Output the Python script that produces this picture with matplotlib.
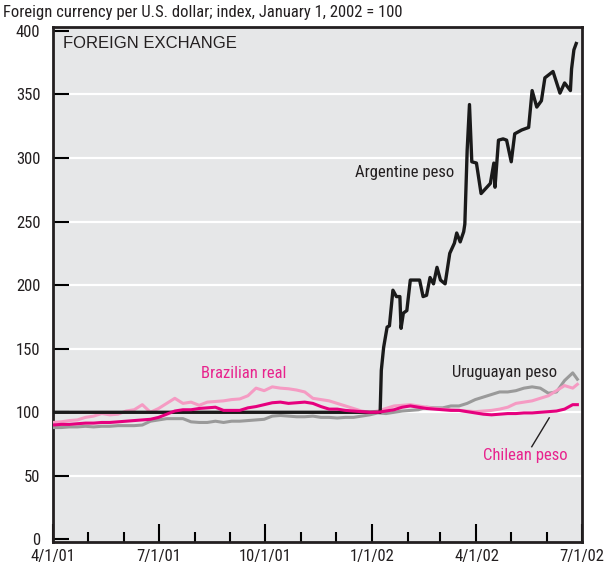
import numpy as np
import pandas as pd
import matplotlib
matplotlib.use('Agg')
import matplotlib.pyplot as plt
import matplotlib.dates as mdates
from matplotlib import font_manager

# weekly observation dates, plus last day shown
week_dates = list(pd.date_range('2001-04-01', periods=65, freq='7D')) + [pd.Timestamp('2002-06-27')]

uruguayan = [88, 88, 88.5, 88.5, 89, 88.5, 89, 89, 89.5, 89.5, 89.5, 90,
             93, 94, 95, 95, 95, 92.5, 92, 92, 93, 92, 93, 93, 93.5, 94, 94.5,
             97, 97.5, 97, 96.5, 96.5, 97, 96, 96, 95.5, 96, 96, 97, 98, 99.5,
             99, 100, 101, 101.5, 102, 104, 103.5, 103.5, 105, 105, 107, 110,
             112, 114, 116, 116, 117, 119, 120, 119, 115, 116, 125, 131, 126]

brazilian = [92, 92.5, 93.5, 94, 96, 97, 99, 98, 98.5, 101, 102, 106,
             100, 103, 107, 111, 107, 108, 105.5, 108, 108.5, 109, 110, 110.5,
             113, 119, 117, 120, 119, 118.5, 117.5, 116, 111, 110, 109, 107,
             105, 103, 101, 100, 101, 103, 105, 105.5, 106, 105, 104, 103,
             102.5, 102, 101.5, 101, 100.5, 101, 101.5, 102.5, 104, 107, 108,
             109, 111, 113, 117, 121, 119, 122]

chilean = [90, 90.5, 90.5, 91, 91.5, 91.5, 92, 92, 92.5, 93, 93.5, 94,
           94.5, 96, 98.5, 101, 102, 102, 103, 103.5, 104, 101.5, 101.5, 101.5,
           103.5, 104.5, 106, 107.5, 108, 107, 107.5, 108, 107, 104.5, 102.5,
           102.5, 101.5, 101, 100.5, 100, 100, 101, 102, 104, 105, 104, 103,
           102.5, 102, 101.5, 101.5, 100.5, 99.5, 98.5, 98, 98.5, 99, 99, 99.5,
           99.5, 100, 100.5, 101, 102.5, 106, 106]

arg_dates = ['2001-04-01', '2002-01-08', '2002-01-09', '2002-01-11', '2002-01-14',
             '2002-01-16', '2002-01-19', '2002-01-22', '2002-01-25', '2002-01-26',
             '2002-01-28', '2002-01-31', '2002-02-03', '2002-02-11', '2002-02-14',
             '2002-02-17', '2002-02-20', '2002-02-23', '2002-02-26', '2002-03-01',
             '2002-03-05', '2002-03-09', '2002-03-13', '2002-03-15', '2002-03-18',
             '2002-03-21', '2002-03-22', '2002-03-24', '2002-03-26', '2002-03-28',
             '2002-04-01', '2002-04-05', '2002-04-10', '2002-04-13', '2002-04-16',
             '2002-04-17', '2002-04-20', '2002-04-24', '2002-04-27', '2002-05-01',
             '2002-05-04', '2002-05-10', '2002-05-16', '2002-05-19', '2002-05-23',
             '2002-05-27', '2002-05-30', '2002-06-06', '2002-06-12', '2002-06-16',
             '2002-06-21', '2002-06-22', '2002-06-24', '2002-06-26']
argentine = [100, 100, 133, 151, 167,
             168, 196, 191, 191, 166,
             178, 180, 204, 204, 191,
             192, 206, 201, 214, 204,
             201, 225, 233, 241, 234,
             242, 248, 306, 342, 297,
             296, 272, 277, 280, 296,
             277, 314, 315, 314, 297,
             319, 322, 324, 353, 340,
             345, 363, 368, 351, 359,
             353, 370, 385, 390]

BG = '#e6e7e8'
INK = '#231f20'

# pick a narrow face if one is around, otherwise shrink Liberation Sans
installed = {f.name for f in font_manager.fontManager.ttflist}
FONT, FS = 'Liberation Sans', 11
for name in ['Liberation Sans Narrow', 'DejaVu Sans Condensed', 'Roboto Condensed']:
    if name in installed:
        FONT, FS = name, 12
        break

fig = plt.figure(figsize=(6.05, 5.73), dpi=100)
ax = fig.add_axes([0.0876, 0.0541, 0.8744, 0.8988])
ax.set_facecolor(BG)

ax.plot(week_dates, uruguayan, color='#9a9a9a', lw=2.2, zorder=3)
ax.plot(week_dates, brazilian, color='#f59bc3', lw=2.2, zorder=3)
ax.plot(pd.to_datetime(arg_dates), argentine, color='#1a1a1a', lw=2.4, zorder=4)
ax.plot(week_dates, chilean, color='#e6007e', lw=2.2, zorder=5)

ax.set_ylim(-2, 403)
ax.set_xlim(pd.Timestamp('2001-04-01'), pd.Timestamp('2002-07-01'))
ax.set_yticks(np.arange(0, 401, 50))
for v in range(50, 400, 50):
    ax.axhline(v, color='white', lw=1.6, zorder=1)

ax.xaxis.set_major_locator(mdates.MonthLocator(bymonth=[1, 4, 7, 10]))
ax.xaxis.set_minor_locator(mdates.MonthLocator())
ax.xaxis.set_major_formatter(mdates.DateFormatter('%-m/%-d/%y'))

ax.tick_params(axis='y', direction='in', length=11.5, width=1.5, pad=9,
               labelsize=FS, left=True, right=False)
ax.tick_params(axis='x', which='major', direction='in', length=13, width=1.5,
               pad=5, labelsize=FS)
ax.tick_params(axis='x', which='minor', direction='in', length=7, width=1.5)
for lab in ax.get_xticklabels() + ax.get_yticklabels():
    lab.set_family(FONT)
    lab.set_color(INK)

for s in ax.spines.values():
    s.set_linewidth(2)
    s.set_color(INK)

ax.text(0.019, 0.967, 'FOREIGN EXCHANGE', transform=ax.transAxes,
        fontsize=12, family='Liberation Sans', color=INK, va='center')
ax.text(0.665, 0.718, 'Argentine peso', transform=ax.transAxes, fontsize=FS,
        family=FONT, color=INK, ha='center', va='center')
ax.text(0.361, 0.328, 'Brazilian real', transform=ax.transAxes, fontsize=FS,
        family=FONT, color='#e8238d', ha='center', va='center')
ax.text(0.853, 0.330, 'Uruguayan peso', transform=ax.transAxes, fontsize=FS,
        family=FONT, color=INK, ha='center', va='center')
ax.text(0.892, 0.167, 'Chilean peso', transform=ax.transAxes, fontsize=FS,
        family=FONT, color='#e8238d', ha='center', va='center')
ax.plot([0.905, 0.938], [0.185, 0.241], transform=ax.transAxes,
        color=INK, lw=1, zorder=6)

fig.text(0.005, 1 - 13 / 573, 'Foreign currency per U.S. dollar; index, January 1, 2002 = 100',
         fontsize=FS, family=FONT, color=INK, va='center')

fig.savefig('out.png', dpi=100, facecolor='white')
